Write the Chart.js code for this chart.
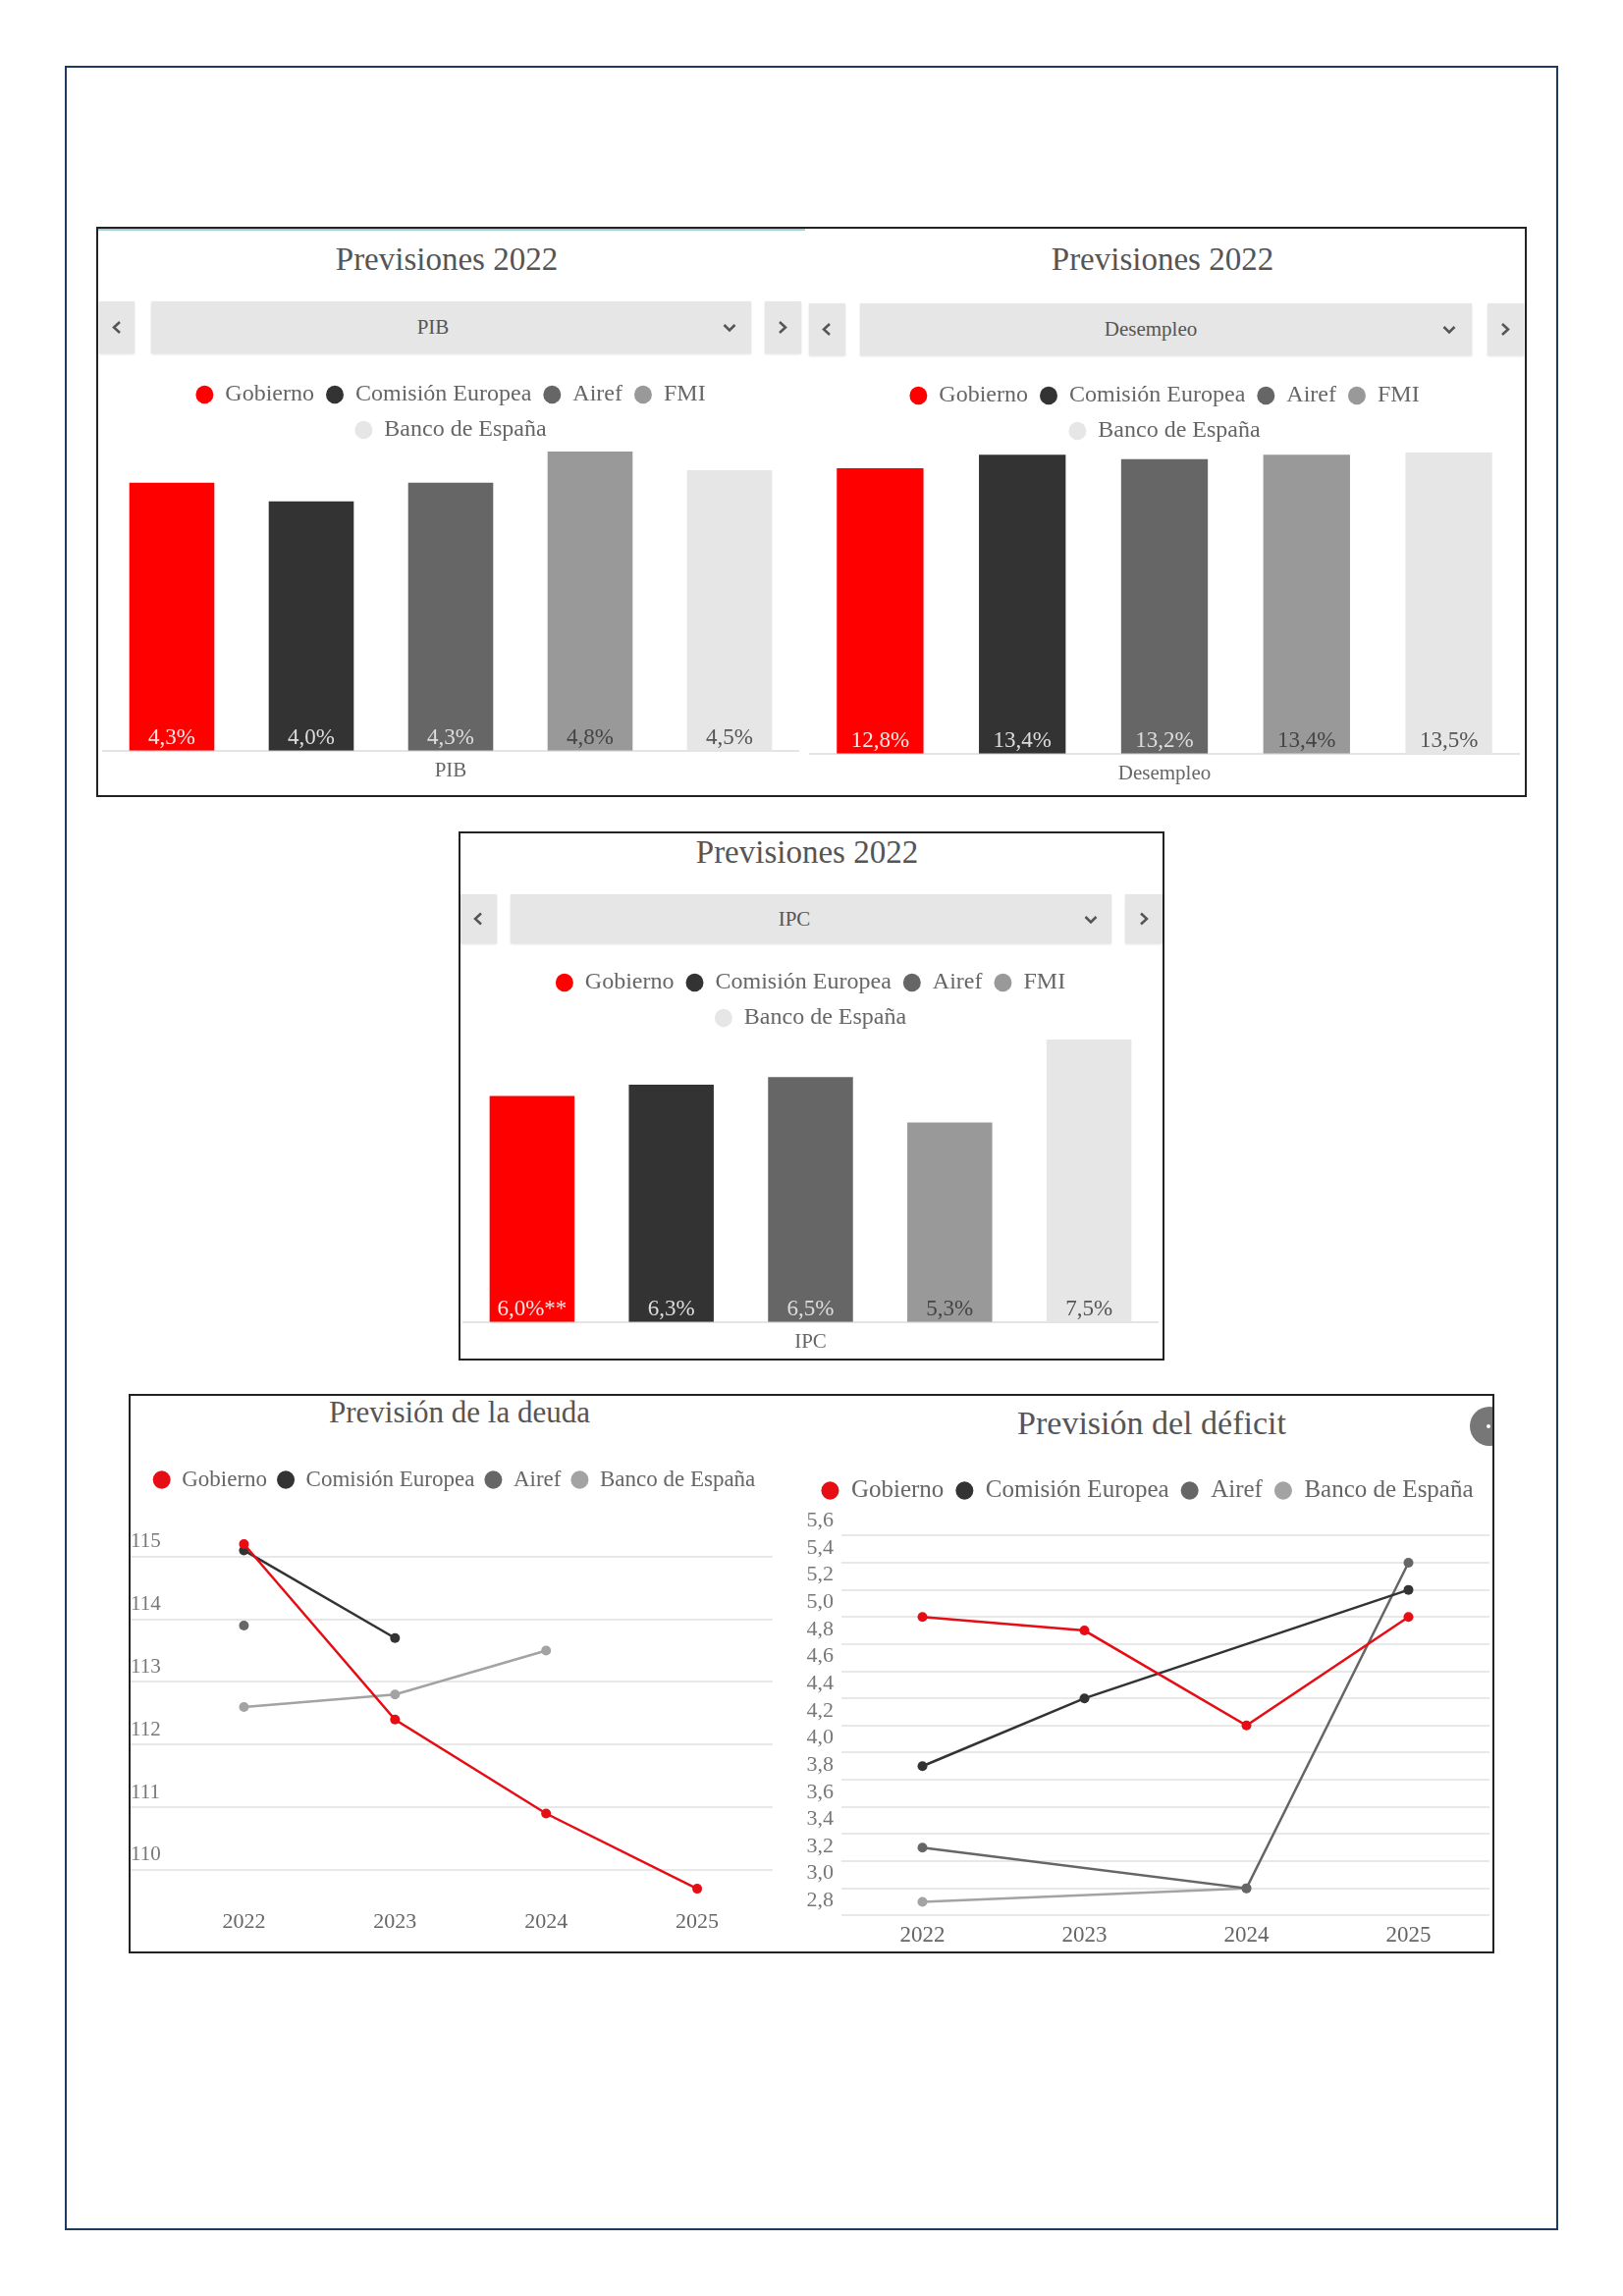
<!DOCTYPE html>
<html lang="es">

<head>
    <meta charset="UTF-8">
    <title>Previsiones 2022</title>
    <script src="https://cdn.jsdelivr.net/npm/chart.js@4.4.0/dist/chart.umd.min.js"></script>
    <style>
        body { margin: 0; width: 1653px; height: 2339px; background: #fff; position: relative; font-family: "Liberation Serif", serif; }
        .caja { position: absolute; box-sizing: border-box; border: 2px solid #222; overflow: hidden; }
        .titulo { position: absolute; width: 600px; text-align: center; color: #555; white-space: nowrap; }
        .boton, .lista { position: absolute; background: #e6e6e6; box-shadow: 0 1px 2px rgba(0,0,0,0.12); }
        .lista span { position: absolute; top: 0; text-align: center; color: #555; font-size: 21px; }
        canvas { position: absolute; }
    </style>
</head>

<body>
    <div class="caja" style="left:66px; top:67px; width:1521px; height:2205px; border-color:#1f3a5f;"></div>

    <!-- panel superior: PIB y desempleo -->
    <div class="caja" style="left:98px; top:231px; width:1457px; height:581px;"></div>
    <div style="position:absolute; left:100px; top:233px; width:720px; height:2px; background:#9fcfd3;"></div>
    <div class="titulo" style="left:155px; top:247px; font-size:33px; line-height:34px;">Previsiones 2022</div>
    <div class="titulo" style="left:884px; top:247px; font-size:33px; line-height:34px;">Previsiones 2022</div>

    <div class="boton" style="left:101px; top:307px; width:36px; height:53px;"><svg width="36" height="53"><polyline points="21,21 15,26.5 21,32" stroke="#555" stroke-width="2.5" fill="none"/></svg></div>
    <div class="lista" style="left:154px; top:307px; width:611px; height:53px;"><span style="left:0; width:574px; line-height:53px;">PIB</span><svg style="position:absolute; left:582px; top:22px;" width="14" height="10"><polyline points="1.5,2 7,7.5 12.5,2" stroke="#555" stroke-width="2.5" fill="none"/></svg></div>
    <div class="boton" style="left:779px; top:307px; width:37px; height:53px;"><svg width="37" height="53"><polyline points="15,21 21,26.5 15,32" stroke="#555" stroke-width="2.5" fill="none"/></svg></div>

    <div class="boton" style="left:824px; top:309px; width:37px; height:53px;"><svg width="37" height="53"><polyline points="21,21 15,26.5 21,32" stroke="#555" stroke-width="2.5" fill="none"/></svg></div>
    <div class="lista" style="left:876px; top:309px; width:623px; height:53px;"><span style="left:0; width:592px; line-height:53px;">Desempleo</span><svg style="position:absolute; left:593px; top:22px;" width="14" height="10"><polyline points="1.5,2 7,7.5 12.5,2" stroke="#555" stroke-width="2.5" fill="none"/></svg></div>
    <div class="boton" style="left:1515px; top:309px; width:37px; height:53px;"><svg width="37" height="53"><polyline points="15,21 21,26.5 15,32" stroke="#555" stroke-width="2.5" fill="none"/></svg></div>

    <canvas id="pib" width="710" height="428" style="left:104px; top:378px;"></canvas>
    <canvas id="desempleo" width="724" height="430" style="left:824px; top:379px;"></canvas>

    <!-- panel central: IPC -->
    <div class="caja" style="left:467px; top:847px; width:719px; height:539px;"></div>
    <div class="titulo" style="left:522px; top:851px; font-size:33px; line-height:34px;">Previsiones 2022</div>
    <div class="boton" style="left:469px; top:911px; width:37px; height:50px;"><svg width="37" height="50"><polyline points="21,19.5 15,25 21,30.5" stroke="#555" stroke-width="2.5" fill="none"/></svg></div>
    <div class="lista" style="left:520px; top:911px; width:612px; height:50px;"><span style="left:0; width:578px; line-height:50px;">IPC</span><svg style="position:absolute; left:584px; top:21px;" width="14" height="10"><polyline points="1.5,2 7,7.5 12.5,2" stroke="#555" stroke-width="2.5" fill="none"/></svg></div>
    <div class="boton" style="left:1146px; top:911px; width:38px; height:50px;"><svg width="38" height="50"><polyline points="16,19.5 22,25 16,30.5" stroke="#555" stroke-width="2.5" fill="none"/></svg></div>
    <canvas id="ipc" width="709" height="411" style="left:471px; top:977px;"></canvas>

    <!-- panel inferior: deuda y déficit -->
    <div class="caja" style="left:131px; top:1420px; width:1391px; height:570px;">
        <div style="position:absolute; left:1364px; top:11px; width:40px; height:40px; border-radius:50%; background:#777;">
            <div style="position:absolute; left:17px; top:18px; width:4px; height:4px; border-radius:50%; background:#fff;"></div>
        </div>
    </div>
    <div class="titulo" style="left:168px; top:1423px; font-size:31px; line-height:32px;">Previsión de la deuda</div>
    <div class="titulo" style="left:873px; top:1432px; font-size:34px; line-height:35px;">Previsión del déficit</div>
    <canvas id="deuda" width="659" height="487" style="left:133px; top:1486px;"></canvas>
    <canvas id="deficit" width="707" height="494" style="left:815px; top:1494px;"></canvas>

    <script>
        // Previsiones 2022 por organismo (barras)
        const fuentes = ['Gobierno', 'Comisión Europea', 'Airef', 'FMI', 'Banco de España'];
        const colores = ['#ff0000', '#333333', '#666666', '#999999', '#e6e6e6'];
        const coloresEtiqueta = ['#fbe6e6', '#dddddd', '#dddddd', '#444444', '#555555'];
        const pib = [4.3, 4.0, 4.3, 4.8, 4.5];
        const desempleo = [12.8, 13.4, 13.2, 13.4, 13.5];
        const ipc = [6.0, 6.3, 6.5, 5.3, 7.5];
        const ipcNotas = ['**', '', '', '', ''];

        // Previsiones de deuda y déficit (lineas)
        const anios = ['2022', '2023', '2024', '2025'];
        const fuentesLineas = ['Gobierno', 'Comisión Europea', 'Airef', 'Banco de España'];
        const coloresLineas = ['#e60d14', '#333333', '#666666', '#a3a3a3'];
        const deudaGobierno = [115.2, 112.4, 110.9, 109.7];
        const deudaComision = [115.1, 113.7, null, null];
        const deudaAiref = [113.9, null, null, null];
        const deudaBanco = [112.6, 112.8, 113.5, null];
        const deficitGobierno = [5.0, 4.9, 4.2, 5.0];
        const deficitComision = [3.9, 4.4, null, 5.2];
        const deficitAiref = [3.3, null, 3.0, 5.4];
        const deficitBanco = [2.9, null, 3.0, null];
        const deudaTicks = [110, 111, 112, 113, 114, 115];
        const deficitTicks = [2.8, 3.0, 3.2, 3.4, 3.6, 3.8, 4.0, 4.2, 4.4, 4.6, 4.8, 5.0, 5.2, 5.4, 5.6];

        const serif = '"Liberation Serif", serif';
        Chart.defaults.font.family = serif;
        Chart.defaults.color = '#666';

        const coma = v => v.toFixed(1).replace('.', ',');

        // etiquetas de valor dentro de la base de cada barra
        const etiquetasBarras = {
            id: 'etiquetasBarras',
            afterDatasetsDraw(chart) {
                const ctx = chart.ctx;
                ctx.save();
                ctx.font = '23px ' + serif;
                ctx.textAlign = 'center';
                ctx.textBaseline = 'middle';
                chart.data.datasets.forEach((ds, i) => {
                    const barra = chart.getDatasetMeta(i).data[0];
                    ctx.fillStyle = coloresEtiqueta[i];
                    ctx.fillText(ds.etiqueta, barra.x, barra.base - 13);
                });
                ctx.restore();
            }
        };

        function leyenda(tam, relleno) {
            return {
                position: 'top',
                labels: {
                    usePointStyle: true, pointStyle: 'circle', boxHeight: 13, pointStyleWidth: 18,
                    padding: relleno, color: '#666', font: { family: serif, size: tam }
                }
            };
        }

        function graficoBarras(id, categoria, valores, maximo, notas) {
            new Chart(document.getElementById(id), {
                type: 'bar',
                data: {
                    labels: [categoria],
                    datasets: fuentes.map((f, i) => ({
                        label: f,
                        data: [valores[i]],
                        backgroundColor: colores[i],
                        borderWidth: 0,
                        barPercentage: 0.61,
                        categoryPercentage: 1,
                        etiqueta: coma(valores[i]) + '%' + (notas ? notas[i] : '')
                    }))
                },
                options: {
                    responsive: false,
                    animation: false,
                    layout: { padding: 0 },
                    plugins: { legend: leyenda(24, 12), tooltip: { enabled: false } },
                    scales: {
                        x: {
                            grid: { display: false, drawTicks: false },
                            border: { display: true, color: '#e4e4e4', width: 2 },
                            ticks: { padding: 8, color: '#666', font: { size: 21 } }
                        },
                        y: { display: false, min: 0, max: maximo }
                    }
                },
                plugins: [etiquetasBarras]
            });
        }

        function graficoLineas(id, series, ejeY, tamX, tamLeyenda, rellenoLeyenda) {
            new Chart(document.getElementById(id), {
                type: 'line',
                data: {
                    labels: anios,
                    datasets: series.map((s, i) => ({
                        label: fuentesLineas[i],
                        data: s,
                        borderColor: coloresLineas[i],
                        backgroundColor: coloresLineas[i],
                        borderWidth: 2.5,
                        pointRadius: 5,
                        pointBorderWidth: 0,
                        spanGaps: true,
                        tension: 0
                    }))
                },
                options: {
                    responsive: false,
                    animation: false,
                    layout: { padding: 0 },
                    plugins: { legend: leyenda(tamLeyenda, rellenoLeyenda), tooltip: { enabled: false } },
                    scales: {
                        x: {
                            offset: true,
                            grid: { display: false, drawTicks: false },
                            border: { display: false },
                            ticks: { padding: 2, color: '#666', font: { size: tamX } }
                        },
                        y: ejeY
                    }
                }
            });
        }

        graficoBarras('pib', 'PIB', pib, 4.8);
        graficoBarras('desempleo', 'Desempleo', desempleo, 13.5);
        graficoBarras('ipc', 'IPC', ipc, 7.5, ipcNotas);

        graficoLineas('deuda', [deudaGobierno, deudaComision, deudaAiref, deudaBanco], {
            min: 109.41,
            max: 115.89,
            afterBuildTicks: eje => { eje.ticks = deudaTicks.map(v => ({ value: v })); },
            afterFit: eje => { eje.width = 38.5; },
            grid: { color: '#e8e8e8', lineWidth: 2, drawTicks: true, tickLength: 38.5 },
            border: { display: false },
            ticks: { crossAlign: 'far', padding: 0, labelOffset: -15, color: '#777', font: { size: 21 }, callback: v => String(v) }
        }, 22, 23, 10);

        graficoLineas('deficit', [deficitGobierno, deficitComision, deficitAiref, deficitBanco], {
            min: 2.763,
            max: 5.769,
            afterBuildTicks: eje => { eje.ticks = deficitTicks.map(v => ({ value: v })); },
            afterFit: eje => { eje.width = 42; },
            grid: { color: '#e8e8e8', lineWidth: 2, drawTicks: false },
            border: { display: false },
            ticks: { padding: 8, labelOffset: -15, color: '#777', font: { size: 22 }, callback: v => coma(v) }
        }, 23, 25, 12);
    </script>
</body>

</html>
